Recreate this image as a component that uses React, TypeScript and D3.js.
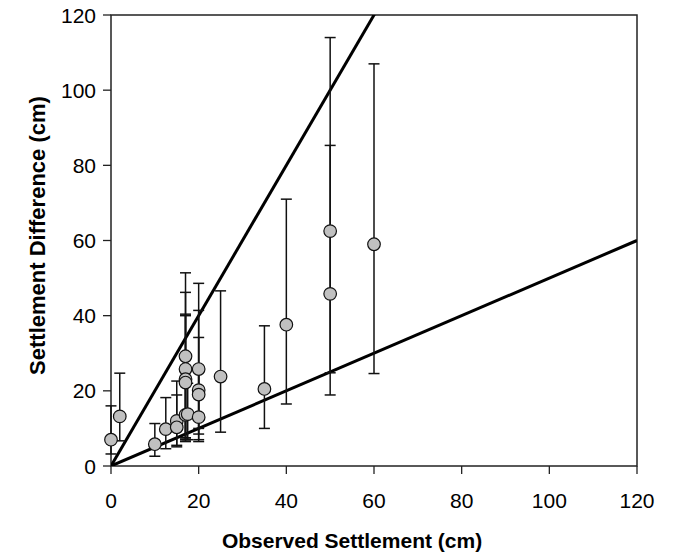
import React from "react";
import * as d3 from "d3";

const observed = [0, 2, 10, 12.5, 15, 15, 17, 17, 17, 17, 17, 17.5, 20, 20, 20, 20, 25, 35, 40, 50, 50, 60];
const difference = [7, 13.2, 5.8, 9.8, 12, 10.3, 29.2, 25.8, 23.1, 22.2, 13.6, 13.8, 25.8, 20.2, 19, 13, 23.8, 20.5, 37.6, 62.5, 45.8, 59];
const lowerBound = [3.2, 6.7, 2.6, 4.6, 5.5, 5.1, 7.5, 7.5, 7, 7, 6.5, 7, 10, 8.5, 7, 6.5, 9, 10, 16.5, 24.8, 18.9, 24.6];
const upperBound = [16, 24.7, 11.3, 18.2, 22.6, 18.9, 51.4, 46.2, 40.4, 40, 26, 22, 48.6, 41.4, 34.2, 26, 46.6, 37.3, 71, 114, 85.3, 107];
const refSlopes = [2, 0.5];
const xTicks = [0, 20, 40, 60, 80, 100, 120];
const yTicks = [0, 20, 40, 60, 80, 100, 120];

export default function App() {
  const W = 676, H = 558;
  const x = d3.scaleLinear().domain([0, 120]).range([111, 637]);
  const y = d3.scaleLinear().domain([0, 120]).range([466, 15]);
  const font = "'Liberation Sans', Arial, sans-serif";
  const line = d3.line<[number, number]>().x(d => x(d[0])).y(d => y(d[1]));
  const cap = 5.5;
  return (
    <svg width={W} height={H} style={{ position: "absolute", left: 0, top: 0, background: "#fff" }} fontFamily={font}>
      <defs>
        <clipPath id="plot">
          <rect x={x(0)} y={y(120)} width={x(120) - x(0)} height={y(0) - y(120)} />
        </clipPath>
      </defs>
      <rect x={x(0)} y={y(120)} width={x(120) - x(0)} height={y(0) - y(120)} fill="none" stroke="#222" strokeWidth={1.5} />
      {xTicks.map(t => (
        <g key={"x" + t}>
          <line x1={x(t)} x2={x(t)} y1={y(0)} y2={y(0) + 8} stroke="#222" strokeWidth={1.3} />
          <text x={x(t)} y={508} fontSize={21} textAnchor="middle" fill="#000">{t}</text>
        </g>
      ))}
      {yTicks.map(t => (
        <g key={"y" + t}>
          <line x1={x(0) - 8} x2={x(0)} y1={y(t)} y2={y(t)} stroke="#222" strokeWidth={1.3} />
          <text x={96} y={y(t) + 7.5} fontSize={21} textAnchor="end" fill="#000">{t}</text>
        </g>
      ))}
      <text x={352} y={548} fontSize={21} fontWeight="bold" textAnchor="middle" fill="#000">Observed Settlement (cm)</text>
      <text transform={`translate(45,${(y(0) + y(120)) / 2 - 5}) rotate(-90)`} fontSize={22} fontWeight="bold" textAnchor="middle" fill="#000">Settlement Difference (cm)</text>
      <g clipPath="url(#plot)">
        {refSlopes.map(s => (
          <path key={s} d={line([[0, 0], [120, 120 * s]]) || ""} fill="none" stroke="#000" strokeWidth={3} />
        ))}
      </g>
      {observed.map((o, i) => (
        <g key={"e" + i} stroke="#111" strokeWidth={1.5}>
          <line x1={x(o)} x2={x(o)} y1={y(lowerBound[i])} y2={y(upperBound[i])} />
          <line x1={x(o) - cap} x2={x(o) + cap} y1={y(lowerBound[i])} y2={y(lowerBound[i])} />
          <line x1={x(o) - cap} x2={x(o) + cap} y1={y(upperBound[i])} y2={y(upperBound[i])} />
        </g>
      ))}
      {observed.map((o, i) => (
        <circle key={"c" + i} cx={x(o)} cy={y(difference[i])} r={6.3} fill="#c0c0c0" stroke="#111" strokeWidth={1.2} />
      ))}
    </svg>
  );
}
